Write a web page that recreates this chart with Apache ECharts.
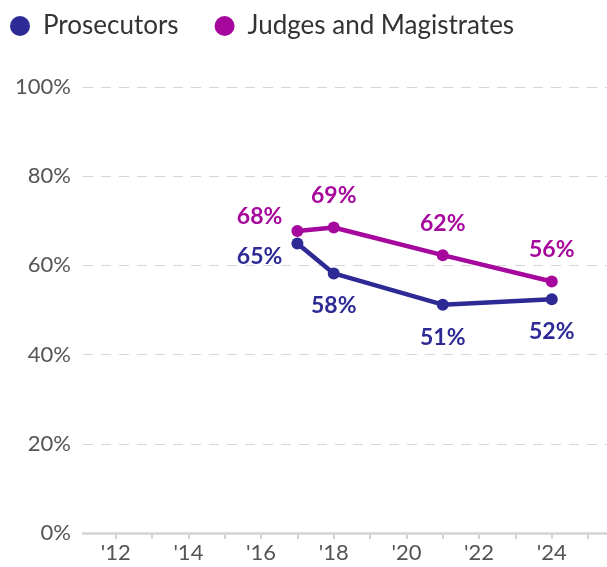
<!DOCTYPE html>
<html>
<head>
<meta charset="utf-8">
<script src="https://cdn.jsdelivr.net/npm/echarts@6/dist/echarts.min.js"></script>
<style>
  html, body { margin: 0; padding: 0; background: #fff; }
  #chart { width: 607px; height: 567px; }
</style>
</head>
<body>
<div id="chart"></div>
<script>
var years = [2017, 2018, 2021, 2024];
var prosecutors = [64.9, 58.2, 51.2, 52.4];
var judges = [67.7, 68.5, 62.3, 56.4];
var tickYears = [2012, 2013, 2014, 2015, 2016, 2017, 2018, 2019, 2020, 2021, 2022, 2023, 2024, 2025];
var labelYears = [2012, 2014, 2016, 2018, 2020, 2022, 2024];

var blue = "#2d2a96";
var purple = "#a6079d";

// where each value label sits relative to its point
var judgeLabelPos = ["left", "top", "top", "top"];
var prosLabelPos = ["left", "bottom", "bottom", "bottom"];

function buildData(vals, positions, kind) {
  return vals.map(function (v, i) {
    var pos = positions[i];
    var lab = { position: pos, distance: pos === "left" ? 9 : (pos === "top" ? 14 : 15) };
    if (pos === "left") lab.offset = kind === "j" ? [0, -14] : [0, 13];
    return { value: [years[i], v], label: lab };
  });
}

var chart = echarts.init(document.getElementById("chart"));
var option = {
  animation: false,
  legend: {
    left: 5,
    top: 8,
    icon: "circle",
    itemWidth: 36,
    itemHeight: 20,
    itemGap: 36,
    textStyle: { fontFamily: "Lato", fontSize: 26, color: "#333" },
    data: ["Prosecutors", "Judges and Magistrates"]
  },
  grid: { left: 83, right: 0, top: 87, bottom: 34 },
  xAxis: {
    type: "value",
    min: 2011.1,
    max: 2025.52,
    axisLine: { show: true, lineStyle: { color: "#d4d4d4", width: 2.5 } },
    axisTick: { show: true, length: 6, lineStyle: { color: "#d4d4d4", width: 2 }, customValues: tickYears },
    axisLabel: {
      customValues: labelYears,
      margin: 9,
      fontFamily: "Lato",
      fontSize: 22,
      color: "#555",
      formatter: function (v) { return "'" + String(v).slice(2); }
    },
    splitLine: { show: false }
  },
  yAxis: {
    type: "value",
    min: 0,
    max: 100,
    interval: 20,
    axisLine: { show: false },
    axisTick: { show: false },
    axisLabel: {
      margin: 12,
      fontFamily: "Lato",
      fontSize: 22,
      color: "#555",
      formatter: "{value}%"
    },
    splitLine: { lineStyle: { color: "#d6d6d6", type: [10, 8], width: 1.2 } }
  },
  series: [
    {
      name: "Prosecutors",
      type: "line",
      data: buildData(prosecutors, prosLabelPos, "p"),
      symbol: "circle",
      symbolSize: 12,
      itemStyle: { color: blue },
      lineStyle: { color: blue, width: 4.5 },
      label: {
        show: true,
        fontFamily: "Lato",
        fontWeight: "bold",
        fontSize: 23,
        color: blue,
        formatter: function (p) { return Math.round(p.value[1]) + "%"; }
      }
    },
    {
      name: "Judges and Magistrates",
      type: "line",
      data: buildData(judges, judgeLabelPos, "j"),
      symbol: "circle",
      symbolSize: 12,
      itemStyle: { color: purple },
      lineStyle: { color: purple, width: 4.5 },
      label: {
        show: true,
        fontFamily: "Lato",
        fontWeight: "bold",
        fontSize: 23,
        color: purple,
        formatter: function (p) { return Math.round(p.value[1]) + "%"; }
      }
    }
  ]
};
chart.setOption(option);
</script>
</body>
</html>
